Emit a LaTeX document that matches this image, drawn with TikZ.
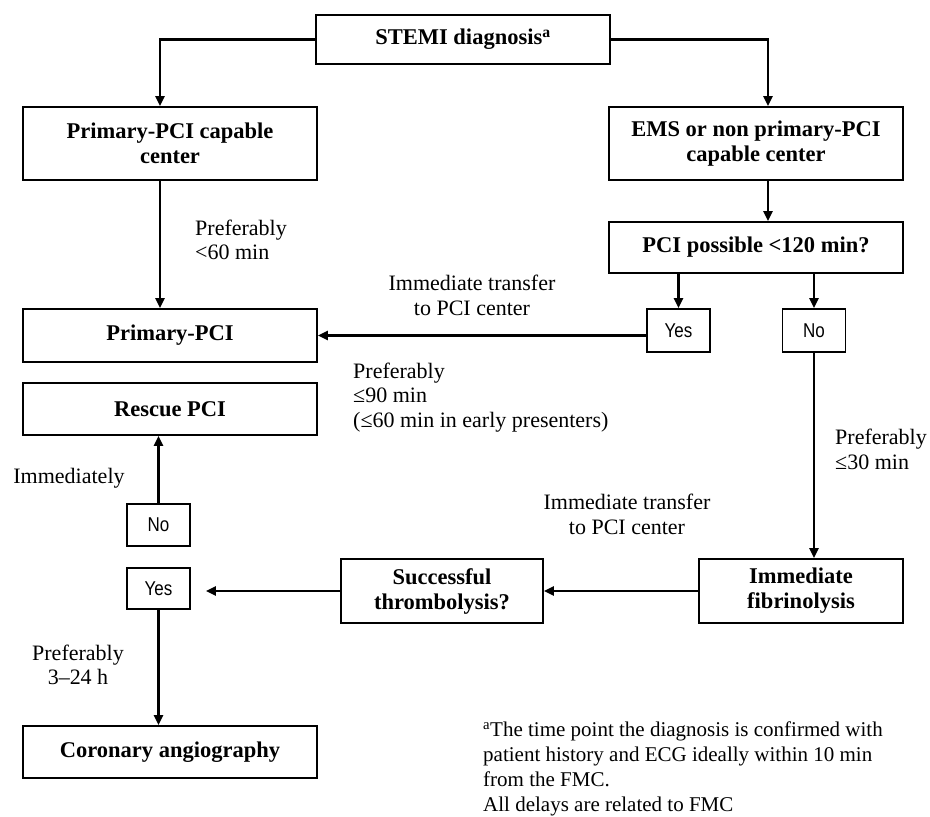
\documentclass[tikz,border=0pt]{standalone}
\usepackage{fontspec}
\setmainfont{Liberation Serif}
\newfontfamily\sansf[FakeStretch=0.85]{Liberation Sans}
\usetikzlibrary{arrows.meta,calc}
\begin{document}
\begin{tikzpicture}[x=1pt,y=-1pt,
  box/.style={draw,line width=1.8pt,minimum width=294pt,minimum height=#1,inner sep=0pt,align=center,
    font=\fontsize{22.5}{25}\selectfont\bfseries},
  box/.default=52pt,
  yn/.style={draw,line width=1.8pt,minimum width=63pt,minimum height=43pt,inner sep=0pt,
    font=\sansf\fontsize{20}{22}\selectfont},
  lab/.style={inner sep=0pt,align=left,font=\fontsize{22}{24.5}\selectfont},
  conn/.style={line width=2.3pt,-{Triangle[length=10pt,width=9pt]}}
]
\useasboundingbox (0,0) rectangle (930,817);
% boxes
\node[box=49pt] (stemi) at (463,39.5) {STEMI diagnosis\textsuperscript{a}};
\node[box=73pt] (ppcc) at (170,143.5) {Primary-PCI capable\\center};
\node[box=73pt] (ems) at (756,143.5) {EMS or non primary-PCI\\capable center};
\node[box=51pt] (pcipos) at (756,247.5) {PCI possible <120 min?};
\node[yn] (yes1) at (678.5,330.5) {Yes};
\node[yn] (no1) at (814,330.5) {No};
\node[box=53pt] (ppci) at (170,335.5) {Primary-PCI};
\node[box=52pt] (rescue) at (170,409) {Rescue PCI};
\node[yn,minimum height=42pt] (no2) at (158.5,525) {No};
\node[yn,minimum height=41pt] (yes2) at (158.5,588.5) {Yes};
\node[box=64pt,minimum width=202pt] (succ) at (442,591) {Successful\\thrombolysis?};
\node[box=64pt,minimum width=204pt] (fib) at (801,591) {Immediate\\fibrinolysis};
\node[box=52pt] (cor) at (170,752) {Coronary angiography};
% connectors
\draw[conn] (stemi.west) -| ([xshift=-10pt]ppcc.north);
\draw[conn] (stemi.east) -| ([xshift=12pt]ems.north);
\draw[conn] ([xshift=12pt]ems.south) -- ([xshift=12pt]pcipos.north);
\draw[conn] ([xshift=-10pt]ppcc.south) -- ([xshift=-10pt]ppci.north);
\draw[conn] (yes1.north |- pcipos.south) -- (yes1.north);
\draw[conn] (no1.north |- pcipos.south) -- (no1.north);
\draw[conn] (yes1.west |- ppci.east) -- (ppci.east);
\draw[conn] (no1.south) -- (no1.south |- fib.north);
\draw[conn] (fib.west) -- (succ.east);
\draw[conn,shorten >=15pt] (succ.west) -- (succ.west -| yes2.east);
\draw[conn] (no2.north) -- (no2.north |- rescue.south);
\draw[conn] (yes2.south) -- (yes2.south |- cor.north);
% labels
\node[lab,anchor=west] (l1) at (195,240) {Preferably\\<60 min};
\node[lab,align=center] (l2) at (472,295.5) {Immediate transfer\\to PCI center};
\node[lab,anchor=west] (l3) at (353,397.5) {Preferably\\≤90 min\\(≤60 min in early presenters)};
\node[lab,anchor=west] (l4) at (835,449.5) {Preferably\\≤30 min};
\node[lab,align=center] (l5) at (627,514.5) {Immediate transfer\\to PCI center};
\node[lab] (l6) at (69,478) {Immediately};
\node[lab,align=center] (l7) at (78,665) {Preferably\\3–24 h};
\node[lab,anchor=west,font=\fontsize{21}{25}\selectfont] (fn) at (483,769)
  {\textsuperscript{a}The time point the diagnosis is confirmed with\\patient history and ECG ideally within 10 min\\from the FMC.\\All delays are related to FMC};
\end{tikzpicture}
\end{document}
